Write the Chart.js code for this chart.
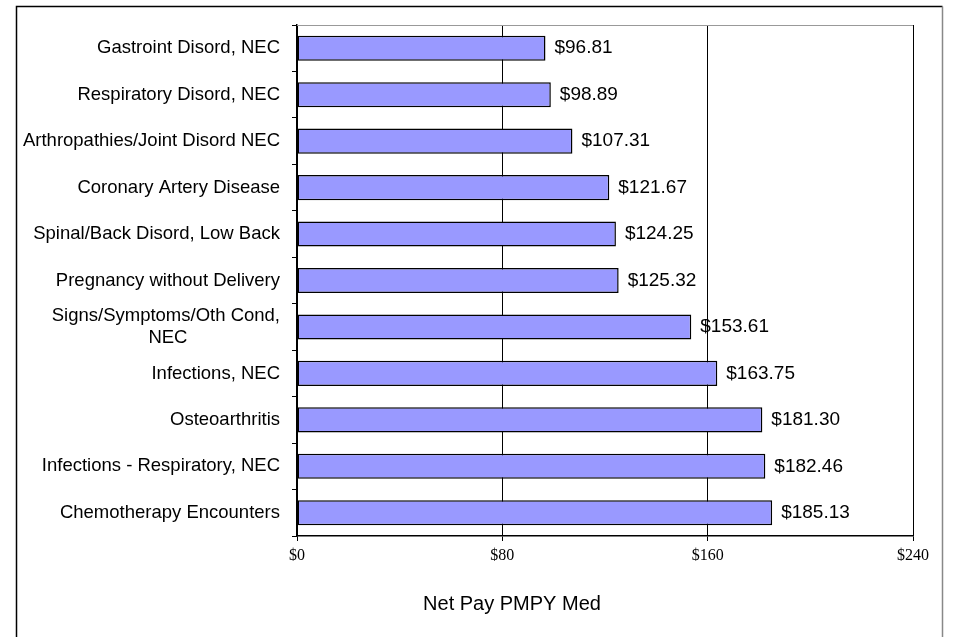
<!DOCTYPE html>
<html>
<head>
<meta charset="utf-8">
<script src="https://cdn.jsdelivr.net/npm/chart.js@4"></script>
<style>
  html, body { margin: 0; padding: 0; background: #fff; }
  #wrap { position: relative; width: 953px; height: 637px; }
</style>
</head>
<body>
<div id="wrap"><canvas id="chart"></canvas></div>
<script>
// categories, top to bottom
var categories = [
    "Gastroint Disord, NEC",
    "Respiratory Disord, NEC",
    "Arthropathies/Joint Disord NEC",
    "Coronary Artery Disease",
    "Spinal/Back Disord, Low Back",
    "Pregnancy without Delivery",
    ["Signs/Symptoms/Oth Cond,", "NEC"],
    "Infections, NEC",
    "Osteoarthritis",
    "Infections - Respiratory, NEC",
    "Chemotherapy Encounters"
];
var netPay = [96.81, 98.89, 107.31, 121.67, 124.25, 125.32, 153.61, 163.75, 181.30, 182.46, 185.13];
var xTicks = [0, 80, 160, 240];
var axisTitle = "Net Pay PMPY Med";

var sans = "'Liberation Sans', Arial, sans-serif";
var serif = "'Liberation Serif', 'Times New Roman', serif";
var catFont = "18.5px " + sans;

// centre the lines of a wrapped label under each other (axis draws them right-aligned)
var measureCtx = document.createElement("canvas").getContext("2d");
function centreLines(lines) {
    measureCtx.font = catFont;
    var widths = lines.map(function (l) { return measureCtx.measureText(l).width; });
    var maxW = Math.max.apply(null, widths);
    var sp = measureCtx.measureText(" ").width;
    return lines.map(function (l, i) {
        var n = Math.round((maxW - widths[i]) / 2 / sp);
        return l + new Array(n + 1).join(" ");
    });
}

// frame round the whole chart, grey top edge of the plot area, axis title
var framePlugin = {
    id: "frame",
    beforeDraw: function (chart) {
        var ctx = chart.ctx;
        ctx.save();
        ctx.lineWidth = 1.5;
        ctx.strokeStyle = "#000";
        ctx.beginPath();
        ctx.moveTo(16.5, 700);
        ctx.lineTo(16.5, 6.5);
        ctx.lineTo(942.5, 6.5);
        ctx.stroke();
        ctx.strokeStyle = "#888";
        ctx.beginPath();
        ctx.moveTo(942.5, 6.5);
        ctx.lineTo(942.5, 700);
        ctx.stroke();
        ctx.restore();
    },
    afterDraw: function (chart) {
        var a = chart.chartArea, ctx = chart.ctx;
        ctx.save();
        ctx.strokeStyle = "#999";
        ctx.lineWidth = 1;
        ctx.beginPath();
        ctx.moveTo(a.left, a.top + 0.5);
        ctx.lineTo(a.right, a.top + 0.5);
        ctx.stroke();
        ctx.font = "20px " + sans;
        ctx.fillStyle = "#000";
        ctx.textAlign = "center";
        ctx.textBaseline = "middle";
        ctx.fillText(axisTitle, 512, 604);
        ctx.restore();
    }
};

// value labels just past the bar ends
var valueLabels = {
    id: "valueLabels",
    afterDatasetsDraw: function (chart) {
        var ctx = chart.ctx;
        var meta = chart.getDatasetMeta(0);
        ctx.save();
        ctx.font = "19px " + sans;
        ctx.fillStyle = "#000";
        ctx.textAlign = "left";
        ctx.textBaseline = "middle";
        meta.data.forEach(function (bar, i) {
            ctx.fillText("$" + netPay[i].toFixed(2), bar.x + 9, bar.y);
        });
        ctx.restore();
    }
};

new Chart(document.getElementById("chart"), {
    type: "bar",
    data: {
        labels: categories,
        datasets: [{
            data: netPay,
            backgroundColor: "#9999FF",
            borderColor: "#000",
            borderWidth: 1.5,
            borderSkipped: false,
            categoryPercentage: 1,
            barPercentage: 0.54
        }]
    },
    options: {
        indexAxis: "y",
        responsive: true,
        maintainAspectRatio: false,
        animation: false,
        layout: { padding: { left: 0, right: 40, top: 25, bottom: 0 } },
        plugins: {
            legend: { display: false },
            tooltip: { enabled: false }
        },
        scales: {
            x: {
                min: 0,
                max: 240,
                afterBuildTicks: function (scale) {
                    scale.ticks = xTicks.map(function (v) { return { value: v }; });
                },
                afterFit: function (scale) { scale.height = 101; },
                grid: { color: "#000", lineWidth: 1, tickLength: 5 },
                border: { color: "#000", width: 1.5 },
                ticks: {
                    color: "#000",
                    padding: 5,
                    maxRotation: 0,
                    font: { family: serif, size: 16 },
                    callback: function (v) { return "$" + v; }
                }
            },
            y: {
                afterFit: function (scale) { scale.width = 297; },
                grid: { drawOnChartArea: false, color: "#000", tickLength: 5, offset: true },
                border: { color: "#000", width: 1.5 },
                ticks: {
                    color: "#000",
                    padding: 12,
                    autoSkip: false,
                    font: { family: sans, size: 18.5 },
                    callback: function (v, i) {
                        var lab = categories[i];
                        return Array.isArray(lab) ? centreLines(lab) : lab;
                    }
                }
            }
        }
    },
    plugins: [framePlugin, valueLabels]
});
</script>
</body>
</html>
